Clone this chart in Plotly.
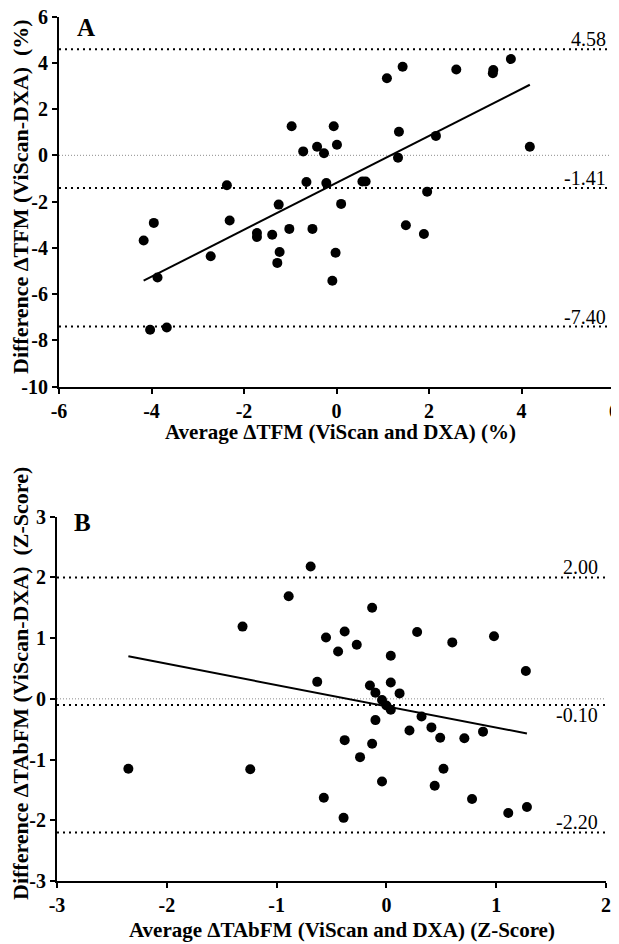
import plotly.graph_objects as go

# ---------------- Panel A data ----------------
a_x = [-0.97, -0.72, -0.42, -0.27, -0.06, 0.01, -0.65, -0.22, -2.37,
       1.43, 1.09, 2.59, 3.39, 3.38, 3.77, 1.35, 2.15, 1.33, 4.18,
       0.56, 0.63, 1.96, -4.17, -3.95, -3.87, -4.03, -3.67, -2.72,
       -2.31, -1.72, -1.72, -1.39, -1.25, -1.23, -1.28, -1.02, -0.52,
       0.10, -0.02, -0.09, 1.50, 1.89]
a_y = [1.26, 0.17, 0.37, 0.09, 1.26, 0.46, -1.15, -1.20, -1.29,
       3.83, 3.33, 3.71, 3.69, 3.55, 4.16, 1.02, 0.84, -0.10, 0.37,
       -1.13, -1.13, -1.57, -3.68, -2.92, -5.28, -7.54, -7.44, -4.36,
       -2.82, -3.36, -3.53, -3.43, -2.13, -4.18, -4.65, -3.18, -3.18,
       -2.10, -4.21, -5.42, -3.02, -3.40]
a_fit_x = [-4.17, 4.18]
a_fit_y = [-5.42, 3.05]
a_limits = [4.58, -1.41, -7.40]
a_limit_labels = ["4.58", "-1.41", "-7.40"]
a_limit_below = [False, False, False]
a_xticks = [-6, -4, -2, 0, 2, 4, 6]
a_yticks = [-10, -8, -6, -4, -2, 0, 2, 4, 6]

# ---------------- Panel B data ----------------
b_x = [-0.69, -0.89, -1.31, -0.55, -0.44, -0.63, -0.13, -0.38, -0.27,
       0.04, 0.28, 0.60, 0.98, 1.27, -0.15, -0.10, 0.04, 0.12, -0.04,
       0.00, 0.04, -0.10, 0.32, 0.41, 0.49, 0.21, 0.71, 0.88, -0.38,
       -0.13, -0.24, -0.04, 0.52, 0.44, 0.78, 1.11, 1.28, -0.39,
       -2.35, -1.24, -0.57]
b_y = [2.18, 1.69, 1.19, 1.01, 0.78, 0.28, 1.50, 1.11, 0.89,
       0.71, 1.10, 0.93, 1.03, 0.46, 0.22, 0.10, 0.27, 0.09, -0.02,
       -0.11, -0.18, -0.35, -0.29, -0.47, -0.64, -0.52, -0.65, -0.54, -0.68,
       -0.74, -0.96, -1.36, -1.15, -1.43, -1.65, -1.88, -1.78, -1.96,
       -1.15, -1.16, -1.63]
b_fit_x = [-2.35, 1.28]
b_fit_y = [0.70, -0.57]
b_limits = [2.00, -0.10, -2.20]
b_limit_labels = ["2.00", "-0.10", "-2.20"]
b_limit_below = [False, True, False]
b_xticks = [-3, -2, -1, 0, 1, 2]
b_yticks = [-3, -2, -1, 0, 1, 2, 3]

W, H = 619, 944
OFF = 8  # page body margin offset of the plot div
SERIF = "Liberation Serif"


def px_x(p):
    return (p - OFF) / W


def px_y(p):
    return 1 - (p - OFF) / H


def bold_labels(vals):
    return [f"<b>{v}</b>" for v in vals]


fig = go.Figure()

fig.add_trace(go.Scatter(x=a_x, y=a_y, mode="markers", xaxis="x", yaxis="y",
                         marker=dict(color="black", size=10), showlegend=False))
fig.add_trace(go.Scatter(x=a_fit_x, y=a_fit_y, mode="lines", xaxis="x", yaxis="y",
                         line=dict(color="black", width=2), showlegend=False))
fig.add_trace(go.Scatter(x=b_x, y=b_y, mode="markers", xaxis="x2", yaxis="y2",
                         marker=dict(color="black", size=10), showlegend=False))
fig.add_trace(go.Scatter(x=b_fit_x, y=b_fit_y, mode="lines", xaxis="x2", yaxis="y2",
                         line=dict(color="black", width=2), showlegend=False))

shapes = []
annotations = []


def add_limits(xr, yr, limits, labels, below):
    # zero reference line (thin grey)
    shapes.append(dict(type="line", xref=f"{xr} domain", yref=yr, x0=0, x1=1, y0=0, y1=0,
                       line=dict(color="#8c8c8c", width=1, dash="1px,2px"), layer="below"))
    for v, lab, bl in zip(limits, labels, below):
        shapes.append(dict(type="line", xref=f"{xr} domain", yref=yr, x0=0, x1=1, y0=v, y1=v,
                           line=dict(color="black", width=2, dash="2px,4px"), layer="below"))
        annotations.append(dict(xref=f"{xr} domain", yref=yr, x=1, y=v, text=lab,
                                showarrow=False, xanchor="right",
                                yanchor="top" if bl else "bottom",
                                xshift=-6, yshift=3 if bl else -3,
                                font=dict(family=SERIF, size=20, color="black")))


add_limits("x", "y", a_limits, a_limit_labels, a_limit_below)
add_limits("x2", "y2", b_limits, b_limit_labels, b_limit_below)


def paper_text(x, y, text, size, angle=0):
    annotations.append(dict(xref="paper", yref="paper", x=px_x(x), y=px_y(y), text=text,
                            showarrow=False, xanchor="center", yanchor="middle",
                            textangle=angle,
                            font=dict(family=SERIF, size=size, color="black")))


NB = "\u00a0"

# panel letters
paper_text(86, 28, "<b>A</b>", 25)
paper_text(82, 522, "<b>B</b>", 25)

# axis titles
paper_text(341, 432, "<b>Average ΔTFM (ViScan and DXA) (%)</b>", 21)
paper_text(21, 197, f"<b>Difference ΔTFM (ViScan-DXA){NB}{NB}(%)</b>", 22, -90)
paper_text(342, 930, "<b>Average ΔTAbFM (ViScan and DXA) (Z-Score)</b>", 21)
paper_text(20, 684, f"<b>Difference ΔTAbFM (ViScan-DXA){NB}{NB}(Z-Score)</b>", 22, -90)

tick_font = dict(family=SERIF, size=20, color="black", weight=700)
common = dict(showline=True, linecolor="black", linewidth=2, ticks="outside",
              ticklen=5, tickwidth=2, tickcolor="black", showgrid=False, zeroline=False,
              tickfont=tick_font, mirror=False, automargin=False, tickmode="array",
              ticklabeloverflow="allow")

fig.update_layout(
    width=W, height=H,
    margin=dict(l=0, r=0, t=0, b=0, autoexpand=False),
    paper_bgcolor="white", plot_bgcolor="white",
    shapes=shapes, annotations=annotations,
    xaxis=dict(domain=[px_x(59), px_x(614)], range=[-6, 6], tickvals=a_xticks,
               ticktext=bold_labels(a_xticks), anchor="y", **common),
    yaxis=dict(domain=[px_y(386.7), px_y(16.5)], range=[-10, 6], tickvals=a_yticks,
               ticktext=bold_labels(a_yticks), anchor="x", **common),
    xaxis2=dict(domain=[px_x(57), px_x(606)], range=[-3, 2], tickvals=b_xticks,
                ticktext=bold_labels(b_xticks), anchor="y2", **common),
    yaxis2=dict(domain=[px_y(881), px_y(516.7)], range=[-3, 3], tickvals=b_yticks,
                ticktext=bold_labels(b_yticks), anchor="x2", **common),
)

fig.write_html("out.html")
